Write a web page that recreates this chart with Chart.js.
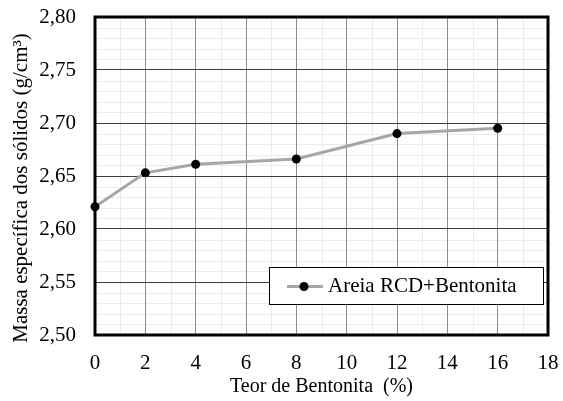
<!DOCTYPE html>
<html>
<head>
<meta charset="utf-8">
<script src="https://cdn.jsdelivr.net/npm/chart.js@4"></script>
<style>
  html, body { margin: 0; padding: 0; background: #fff; }
  #wrap { width: 563px; height: 401px; }
</style>
</head>
<body>
<div id="wrap"><canvas id="grafico" width="563" height="401"></canvas></div>
<script>
// teor de bentonita (%) e massa especifica (g/cm3)
const teores = [0, 2, 4, 8, 12, 16];
const massaEspecifica = [2.621, 2.653, 2.661, 2.666, 2.690, 2.695];
const serieNome = 'Areia RCD+Bentonita';
const xTitulo = 'Teor de Bentonita  (%)';
const yTitulo = 'Massa específica dos sólidos (g/cm³)';

const fonte = '"Liberation Serif", "Times New Roman", serif';

// grade secundaria (linhas claras) desenhada antes das escalas
const gradeMenor = {
  id: 'gradeMenor',
  beforeDraw(chart) {
    const { ctx, chartArea: a, scales: { x, y } } = chart;
    ctx.save();
    ctx.strokeStyle = '#ebebeb';
    ctx.lineWidth = 1;
    for (let v = 1; v < 18; v += 2) {
      const px = Math.round(x.getPixelForValue(v)) + 0.5;
      ctx.beginPath(); ctx.moveTo(px, a.top); ctx.lineTo(px, a.bottom); ctx.stroke();
    }
    for (let i = 1; i < 30; i++) {
      if (i % 5 === 0) continue;
      const py = Math.round(y.getPixelForValue(2.5 + i * 0.01)) + 0.5;
      ctx.beginPath(); ctx.moveTo(a.left, py); ctx.lineTo(a.right, py); ctx.stroke();
    }
    ctx.restore();
  }
};

// moldura grossa, titulo do eixo y e legenda dentro da area
const molduraLegenda = {
  id: 'molduraLegenda',
  afterDraw(chart) {
    const { ctx, chartArea: a } = chart;
    ctx.save();
    ctx.strokeStyle = '#000';
    ctx.lineWidth = 3;
    ctx.strokeRect(a.left, a.top, a.right - a.left, a.bottom - a.top);

    // titulo y
    ctx.save();
    ctx.translate(21, 188);
    ctx.rotate(-Math.PI / 2);
    ctx.fillStyle = '#000';
    ctx.font = '21px ' + fonte;
    ctx.textAlign = 'center';
    ctx.textBaseline = 'middle';
    ctx.fillText(yTitulo, 0, 0);
    ctx.restore();

    const bx = 269, by = 267, bw = 274, bh = 37;
    ctx.fillStyle = '#fff';
    ctx.fillRect(bx, by, bw, bh);
    ctx.lineWidth = 1;
    ctx.strokeRect(bx + 0.5, by + 0.5, bw, bh);
    const ly = by + bh / 2 + 1;
    ctx.strokeStyle = '#a6a6a6';
    ctx.lineWidth = 3;
    ctx.beginPath(); ctx.moveTo(287, ly); ctx.lineTo(323, ly); ctx.stroke();
    ctx.fillStyle = '#000';
    ctx.beginPath(); ctx.arc(304, ly, 4.5, 0, Math.PI * 2); ctx.fill();
    ctx.font = '21px ' + fonte;
    ctx.textBaseline = 'middle';
    ctx.fillText(serieNome, 328, ly);
    ctx.restore();
  }
};

new Chart(document.getElementById('grafico').getContext('2d'), {
  type: 'line',
  data: {
    datasets: [{
      label: serieNome,
      data: teores.map((t, i) => ({ x: t, y: massaEspecifica[i] })),
      borderColor: '#a6a6a6',
      borderWidth: 3,
      backgroundColor: '#000',
      pointBackgroundColor: '#000',
      pointBorderColor: '#000',
      pointRadius: 4.5,
      pointBorderWidth: 0,
      tension: 0,
      clip: false
    }]
  },
  options: {
    responsive: false,
    animation: false,
    events: [],
    layout: { padding: { top: 17, right: 15, left: 0, bottom: 0 } },
    plugins: { legend: { display: false }, tooltip: { enabled: false } },
    scales: {
      x: {
        type: 'linear', min: 0, max: 18,
        ticks: { stepSize: 2, color: '#000', font: { family: fonte, size: 21 }, padding: 16 },
        grid: { color: '#8c8c8c', lineWidth: 1, drawTicks: false },
        border: { display: false },
        title: { display: true, text: xTitulo, color: '#000', font: { family: fonte, size: 20 }, padding: { top: 2, bottom: 2 } },
        afterFit(s) { s.height = 66; s.paddingLeft = 0; s.paddingRight = 0; }
      },
      y: {
        type: 'linear', min: 2.5, max: 2.8,
        ticks: {
          stepSize: 0.05, color: '#000', font: { family: fonte, size: 21 }, padding: 19,
          callback: v => v.toFixed(2).replace('.', ',')
        },
        grid: { color: '#404040', lineWidth: 1, drawTicks: false },
        border: { display: false },
        afterFit(s) { s.width = 95; s.paddingTop = 0; s.paddingBottom = 0; }
      }
    }
  },
  plugins: [gradeMenor, molduraLegenda]
});
</script>
</body>
</html>
